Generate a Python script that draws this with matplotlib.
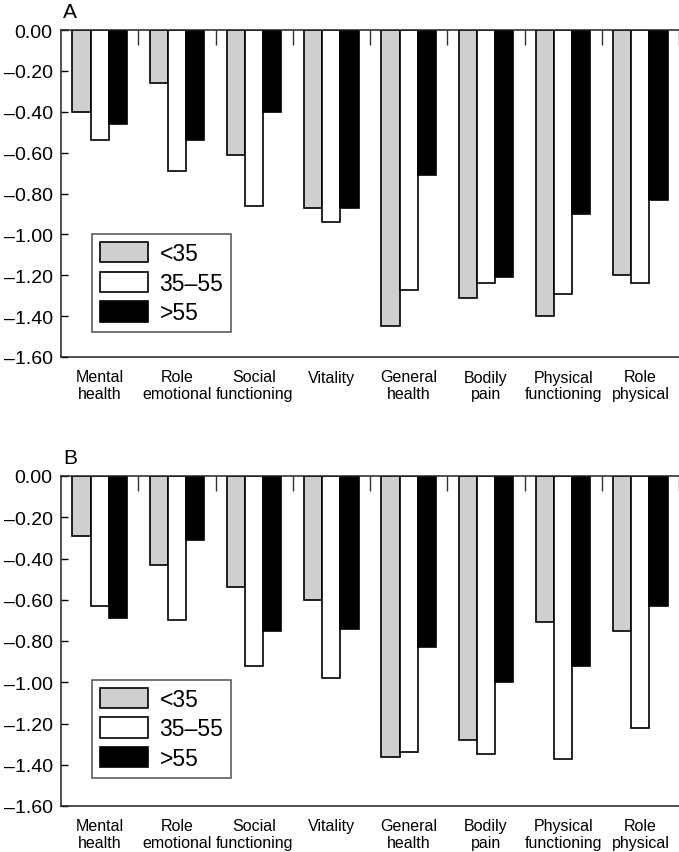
import matplotlib
matplotlib.use("Agg")
import matplotlib.pyplot as plt
import numpy as np

plt.rcParams['font.family'] = ['Liberation Sans', 'DejaVu Sans']

categories = ["Mental\nhealth", "Role\nemotional", "Social\nfunctioning", "Vitality",
              "General\nhealth", "Bodily\npain", "Physical\nfunctioning", "Role\nphysical"]
groups = ["<35", "35\u201355", ">55"]

panel_a_lt35 = [-0.40, -0.26, -0.61, -0.87, -1.45, -1.31, -1.40, -1.20]
panel_a_35_55 = [-0.54, -0.69, -0.86, -0.94, -1.27, -1.24, -1.29, -1.24]
panel_a_gt55 = [-0.46, -0.54, -0.40, -0.87, -0.71, -1.21, -0.90, -0.83]

panel_b_lt35 = [-0.29, -0.43, -0.54, -0.60, -1.36, -1.28, -0.71, -0.75]
panel_b_35_55 = [-0.63, -0.70, -0.92, -0.98, -1.34, -1.35, -1.37, -1.22]
panel_b_gt55 = [-0.69, -0.31, -0.75, -0.74, -0.83, -1.00, -0.92, -0.63]

yticks = [0.0, -0.2, -0.4, -0.6, -0.8, -1.0, -1.2, -1.4, -1.6]
colors = ["#cfcfcf", "#ffffff", "#000000"]

W, H = 679, 853
fig = plt.figure(figsize=(W / 100, H / 100), dpi=100)


def fmt(v):
    s = f"{v:.2f}"
    if s.startswith("-"):
        s = "\u2013" + s[1:]
    return s


def panel(rect, series, letter, leg_anchor):
    ax = fig.add_axes(rect)
    x = np.arange(len(categories))
    w = 0.235
    for k, (vals, c) in enumerate(zip(series, colors)):
        ax.bar(x + (k - 1) * w, vals, width=w, color=c, edgecolor="black",
               linewidth=1.2, label=groups[k], zorder=2)
    ax.set_xlim(-0.5, len(categories) - 0.5)
    ax.set_ylim(-1.6, 0.0)
    ax.set_yticks(yticks)
    ax.set_yticklabels([fmt(v) for v in yticks], fontsize=14)
    ax.set_xticks(x)
    ax.set_xticklabels(categories, fontsize=11.5, linespacing=1.15)
    ax.set_xticks(np.arange(len(categories)) + 0.5, minor=True)
    ax.tick_params(axis='x', which='major', length=0, pad=9)
    ax.tick_params(axis='x', which='minor', top=True, bottom=False, direction='in',
                   length=11, width=1.0, color='#333333')
    ax.tick_params(axis='y', direction='in', length=5, width=1.0, pad=6)
    for s in ['left', 'bottom', 'top']:
        ax.spines[s].set_linewidth(1.1)
        ax.spines[s].set_color('#222222')
    ax.spines['right'].set_visible(False)
    leg = ax.legend(loc='lower left', bbox_to_anchor=leg_anchor, borderaxespad=0,
                    fontsize=16.5, handlelength=2.1, handleheight=1.0,
                    labelspacing=0.28, handletextpad=0.5, borderpad=0.35,
                    fancybox=False, frameon=True, edgecolor='#222222')
    leg.get_frame().set_linewidth(1.1)
    fig.text(rect[0] + 2 / W, rect[1] + rect[3] + 13 / H, letter, fontsize=15,
             ha='left', va='baseline')
    return ax


panel([61 / W, 1 - 358 / H, 1 - 61 / W, 327 / H],
      [panel_a_lt35, panel_a_35_55, panel_a_gt55], "A", (0.05, 0.076))
panel([61 / W, 1 - 807 / H, 1 - 61 / W, 330 / H],
      [panel_b_lt35, panel_b_35_55, panel_b_gt55], "B", (0.05, 0.085))

fig.savefig("out.png", dpi=100)
